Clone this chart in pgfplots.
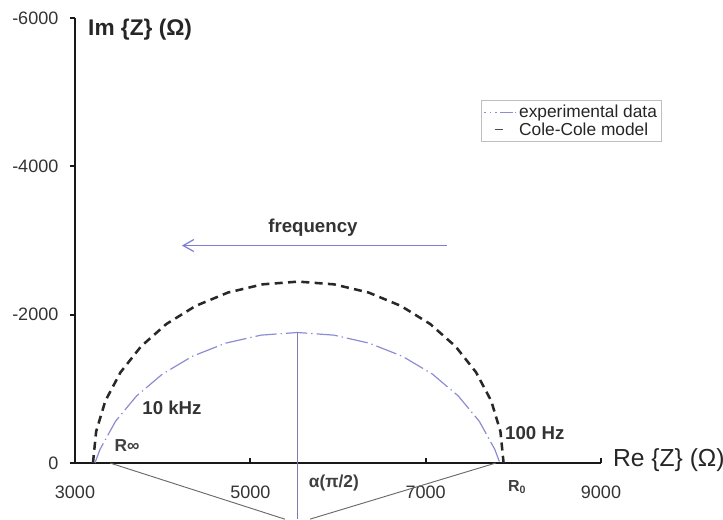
\documentclass[border=0pt]{standalone}
\usepackage{fontspec}
\setmainfont{Liberation Sans}
\usepackage{pgfplots}
\pgfplotsset{compat=1.18}
\usetikzlibrary{arrows.meta}
\definecolor{expc}{RGB}{140,140,212}
\definecolor{vertc}{RGB}{125,125,175}
\definecolor{slantc}{RGB}{105,105,105}
\definecolor{arrowc}{RGB}{125,125,210}
\definecolor{modelc}{RGB}{40,40,40}
\pgfplotsset{
  expleg/.style={legend image code/.code={\draw[expc, line width=0.9pt, dash pattern=on 1.5pt off 3pt on 1pt off 3pt on 1.5pt off 2pt on 10pt] (0pt,0pt) -- (24pt,0pt);}},
  modleg/.style={legend image code/.code={\draw[black!70, line width=0.8pt] (8pt,0pt) -- (14pt,0pt);}},
}

\begin{document}
\begin{tikzpicture}
\begin{axis}[
  at={(0,0)}, anchor=south west,
  scale only axis, width=394.5pt, height=333.75pt,
  xmin=3000, xmax=9000, ymin=-6000, ymax=0,
  y dir=reverse, enlargelimits=false, clip=false,
  axis x line=middle, axis y line=left,
  axis line style={-, line width=2.2pt, black!90},
  hide obscured x ticks=false, hide obscured y ticks=false,
  xtick={3000,5000,7000,9000}, xticklabels={3000,5000,7000,9000},
  ytick={-6000,-4000,-2000,0}, yticklabels={-6000,-4000,-2000,0},
  scaled ticks=false,
  xtick align=outside, ytick align=outside,
  major tick length=4pt,
  tick style={line width=1.5pt, black!90},
  ticklabel style={font=\fontsize{13.5}{15}\selectfont, text=black!80},
  xticklabel style={yshift=-10pt},
  yticklabel style={xshift=-5pt},
  legend style={at={(axis cs:7630,-4892)}, anchor=north west, draw=black!25,
    line width=0.6pt, font=\fontsize{13}{14.5}\selectfont, text=black!85,
    inner sep=1.5pt, row sep=-2pt, cells={anchor=west}},
]
% experimental data (dash-dot)
\addplot[expc, line width=0.9pt, dash pattern=on 16pt off 3pt on 1pt off 3pt, expleg] coordinates {
  (3227,0) (3285,-183) (3462,-562) (3702,-904) (3997,-1199) (4339,-1439)
  (4718,-1616) (5121,-1724) (5537,-1760) (5953,-1724) (6356,-1616)
  (6735,-1439) (7077,-1199) (7372,-904) (7612,-562) (7789,-183) (7847,0)
};
\addlegendentry{experimental data}
% Cole-Cole model (dashed)
\addplot[modelc, line width=1.9pt, dash pattern=on 6pt off 4pt, modleg] coordinates {
  (3205,0) (3241,-425) (3346,-837) (3519,-1223) (3753,-1572) (4042,-1874)
  (4376,-2118) (4746,-2299) (5140,-2409) (5547,-2446) (5954,-2409)
  (6348,-2299) (6718,-2118) (7052,-1874) (7341,-1572) (7575,-1223)
  (7748,-837) (7853,-425) (7889,0)
};
\addlegendentry{Cole-Cole model}
% construction lines
\addplot[vertc, line width=0.8pt, forget plot] coordinates {(5543,-1760) (5543,757)};
\addplot[slantc, line width=0.7pt, forget plot] coordinates {(3400,0) (5394,757)};
\addplot[slantc, line width=0.7pt, forget plot] coordinates {(7800,0) (5680,757)};

\draw[arrowc, line width=0.9pt, -{Straight Barb[length=8pt, width=9pt]}]
  (axis cs:7242,-2932) -- (axis cs:4220,-2932);
\node[font=\bfseries\fontsize{14}{16}\selectfont, text=black!80] at (axis cs:5714,-3176) {frequency};
\node[font=\bfseries\fontsize{14}{16}\selectfont, text=black!80] at (axis cs:4106,-743) {10 kHz};
\node[font=\bfseries\fontsize{14}{16}\selectfont, text=black!80] at (axis cs:8245,-405) {100 Hz};
\node[font=\bfseries\fontsize{13}{15}\selectfont, text=black!75] at (axis cs:3593,-230) {R∞};
\node[font=\bfseries\fontsize{12}{14}\selectfont, text=black!75] at (axis cs:8040,324) {R\raisebox{-0.3ex}{\fontsize{8}{9}\selectfont 0}};
\node[font=\bfseries\fontsize{13}{15}\selectfont, text=black!75] at (axis cs:5953,270) {α(π/2)};
\node[anchor=west, inner sep=0pt, font=\bfseries\fontsize{17}{19}\selectfont, text=black!85] at (axis cs:3148,-5838) {Im \{Z\} (Ω)};
\node[anchor=west, inner sep=0pt, font=\fontsize{18.5}{20}\selectfont, text=black!85] at (axis cs:9134,-40) {Re \{Z\} (Ω)};
\end{axis}
\pgfresetboundingbox
\useasboundingbox (-56.25pt,-42pt) rectangle (486pt,347.25pt);
\end{tikzpicture}
\end{document}
